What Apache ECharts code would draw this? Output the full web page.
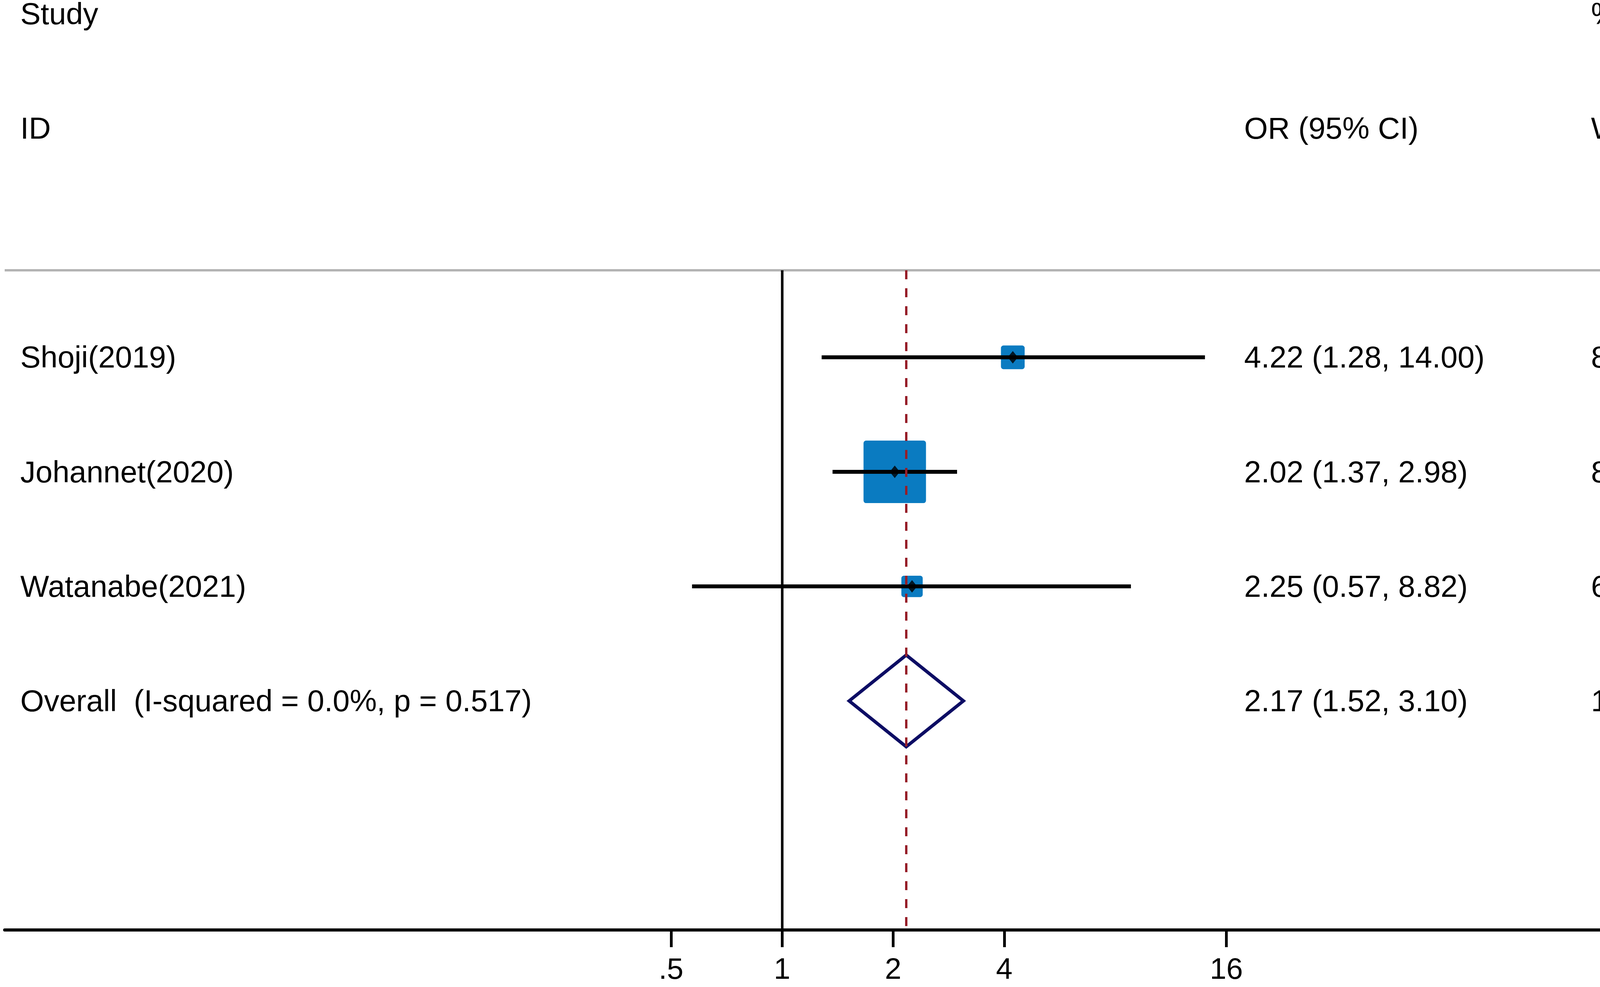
<!DOCTYPE html>
<html><head><meta charset="utf-8">
<script src="https://cdn.jsdelivr.net/npm/echarts@6/dist/echarts.min.js"></script>
<style>html,body{margin:0;padding:0;background:#fff}#c{width:4562px;height:2527px}</style>
</head><body><div id="c"></div>
<script>
// ---- data ----
const studies = ['Shoji(2019)', 'Johannet(2020)', 'Watanabe(2021)'];
const orValues = [4.22, 2.02, 2.25];
const ciLow = [1.28, 1.37, 0.57];
const ciHigh = [14.00, 2.98, 8.82];
const weights = [8.90, 84.32, 6.79];
const overallLabel = 'Overall  (I-squared = 0.0%, p = 0.517)';
const overallOR = 2.17, overallLow = 1.52, overallHigh = 3.10, overallWeight = 100.00;
const tickValues = [0.5, 1, 2, 4, 16];
const tickLabels = ['.5', '1', '2', '4', '16'];
const headerTop = ['Study', '%'];
const headerBottom = ['ID', 'OR (95% CI)', 'Weight'];

const studyRows = studies.map((s, i) => i + 1);
const overallRow = studies.length + 1;

const FONT = "'Liberation Sans', Arial, sans-serif";
const FS = 78;

const chart = echarts.init(document.getElementById('c'), null, {renderer: 'canvas'});

const squareData = studies.map((s, i) => [orValues[i], studyRows[i], weights[i]]);
const ciData = studies.map((s, i) => [ciLow[i], ciHigh[i], studyRows[i]]);
const dotData = studies.map((s, i) => [orValues[i], studyRows[i]]);

chart.setOption({
  animation: false,
  backgroundColor: '#fff',
  grid: {left: 12, right: 1, top: 692, bottom: 146, containLabel: false},
  xAxis: {
    type: 'log', logBase: 2, min: 1 / 128, max: 512,
    axisLine: {show: true, lineStyle: {color: '#000', width: 8}},
    axisTick: {show: true, customValues: tickValues, length: 44, lineStyle: {color: '#000', width: 7}},
    axisLabel: {
      show: true, customValues: tickValues, margin: 66, color: '#000',
      fontSize: 76, fontFamily: FONT,
      formatter: v => {
        const i = tickValues.findIndex(t => Math.abs(Math.log2(t) - Math.log2(v)) < 1e-6);
        return i >= 0 ? tickLabels[i] : '';
      }
    },
    splitLine: {show: false}, minorTick: {show: false}
  },
  yAxis: {type: 'value', inverse: true, min: 0.24, max: 6, show: false, splitLine: {show: false}},
  series: [
    {
      type: 'scatter', z: 2, data: squareData,
      symbol: 'rect',
      symbolSize: v => 16 * Math.sqrt(v[2]),
      itemStyle: {color: '#0a7bc1', borderColor: '#0a7bc1', borderWidth: 13, borderJoin: 'round', opacity: 1},
      emphasis: {disabled: true},
      markLine: {
        silent: true, symbol: ['none', 'none'], label: {show: false}, animation: false,
        data: [
          {yAxis: 0.24, lineStyle: {color: '#b3b3b3', width: 6, type: 'solid'}},
          {xAxis: 1, lineStyle: {color: '#000', width: 6.5, type: 'solid'}},
          {xAxis: overallOR, lineStyle: {color: '#961e28', width: 6, type: [23, 23]}}
        ]
      }
    },
    {
      type: 'custom', z: 3, data: ciData,
      encode: {x: [0, 1], y: 2},
      renderItem: (params, api) => {
        const a = api.coord([api.value(0), api.value(2)]);
        const b = api.coord([api.value(1), api.value(2)]);
        return {type: 'line', shape: {x1: a[0], y1: a[1], x2: b[0], y2: b[1]},
                style: {stroke: '#000', lineWidth: 10}};
      }
    },
    {
      type: 'scatter', z: 4, data: dotData, symbol: 'diamond', symbolSize: [26, 32],
      itemStyle: {color: '#000'}, emphasis: {disabled: true}
    },
    {
      type: 'custom', z: 3, data: [[overallLow, overallOR, overallHigh, overallRow]],
      encode: {x: [0, 1, 2], y: 3},
      renderItem: (params, api) => {
        const r = api.value(3);
        const pts = [
          api.coord([api.value(0), r]),
          api.coord([api.value(1), r - 0.4]),
          api.coord([api.value(2), r]),
          api.coord([api.value(1), r + 0.4])
        ];
        return {type: 'polygon', shape: {points: pts},
                style: {fill: 'none', stroke: '#0c0c64', lineWidth: 8.5, lineJoin: 'miter'}};
      }
    }
  ]
});

// ---- text table ----
const colX = [52, 3185, 4073];
const rowY = r => chart.convertToPixel({yAxisIndex: 0}, r) + 5;
const txt = (x, y, text) => ({
  type: 'text', x: x, y: y, silent: true,
  style: {text: text, fill: '#000', fontSize: FS, fontFamily: FONT, align: 'left', verticalAlign: 'middle'}
});
const g = [];
g.push(txt(colX[0], rowY(-2), headerTop[0]));
g.push(txt(colX[2], rowY(-2), headerTop[1]));
g.push(txt(colX[0], rowY(-1), headerBottom[0]));
g.push(txt(colX[1], rowY(-1), headerBottom[1]));
g.push(txt(colX[2], rowY(-1), headerBottom[2]));
studies.forEach((s, i) => {
  const y = rowY(studyRows[i]);
  g.push(txt(colX[0], y, s));
  g.push(txt(colX[1], y, `${orValues[i].toFixed(2)} (${ciLow[i].toFixed(2)}, ${ciHigh[i].toFixed(2)})`));
  g.push(txt(colX[2], y, weights[i].toFixed(2)));
});
const yo = rowY(overallRow);
g.push(txt(colX[0], yo, overallLabel));
g.push(txt(colX[1], yo, `${overallOR.toFixed(2)} (${overallLow.toFixed(2)}, ${overallHigh.toFixed(2)})`));
g.push(txt(colX[2], yo, overallWeight.toFixed(2)));
chart.setOption({graphic: g});
</script>
</body></html>
